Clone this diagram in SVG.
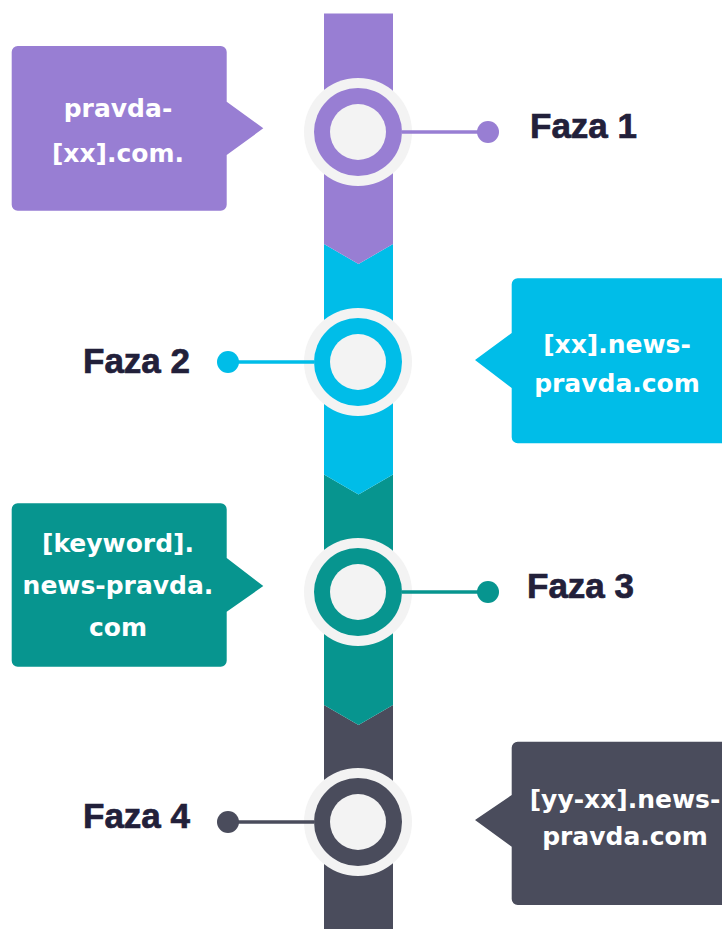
<svg xmlns="http://www.w3.org/2000/svg" width="722" height="929" viewBox="0 0 722 929">
<style>
.lbl{font-family:"Liberation Sans",Arial,sans-serif;font-weight:bold;font-size:35px;fill:#22203a;stroke:#22203a;stroke-width:0.7}
.ct{font-family:"DejaVu Sans",Verdana,sans-serif;font-weight:bold;font-size:25px;fill:#ffffff;text-anchor:middle}
.ring{fill:#f3f3f3}
.c1{fill:#987ed3}.c2{fill:#00bde8}.c3{fill:#07958f}.c4{fill:#4a4c5c}
.s1{stroke:#987ed3}.s2{stroke:#00bde8}.s3{stroke:#07958f}.s4{stroke:#4a4c5c}
.ln{stroke-width:3.5;fill:none}
</style>
<rect width="722" height="929" fill="#ffffff"/>
<g id="bar">
<polygon class="c4" points="324,705 358.5,725 393,705 393,929 324,929"/>
<polygon class="c3" points="324,474.5 358.5,494.5 393,474.5 393,705 358.5,725 324,705"/>
<polygon class="c2" points="324,244 358.5,264 393,244 393,474.5 358.5,494.5 324,474.5"/>
<polygon class="c1" points="324,13.5 393,13.5 393,244 358.5,264 324,244"/>
</g>
<g id="phase1">
<circle class="ring" cx="358" cy="132" r="54"/><circle class="c1" cx="358" cy="132" r="44"/><circle class="ring" cx="358" cy="132" r="28"/>
<path class="c1" d="M17.7,46 H220.7 A6,6 0 0 1 226.7,52 V101.7 L263.3,128.3 L226.7,155 V204.7 A6,6 0 0 1 220.7,210.7 H17.7 A6,6 0 0 1 11.7,204.7 V52 A6,6 0 0 1 17.7,46 Z"/>
<text class="ct" x="118" y="117">pravda-</text>
<text class="ct" x="118" y="162">[xx].com.</text>
<text class="lbl" x="530" y="138">Faza 1</text>
</g>
<g id="phase2">
<circle class="ring" cx="358" cy="362" r="54"/><circle class="c2" cx="358" cy="362" r="44"/><circle class="ring" cx="358" cy="362" r="28"/>
<path class="c2" d="M517.7,278.3 H730 V443.3 H517.7 A6,6 0 0 1 511.7,437.3 V388 L475,360 L511.7,333 V284.3 A6,6 0 0 1 517.7,278.3 Z"/>
<text class="ct" x="617" y="353">[xx].news-</text>
<text class="ct" x="617" y="392">pravda.com</text>
<text class="lbl" x="83" y="373">Faza 2</text>
</g>
<g id="phase3">
<circle class="ring" cx="358" cy="592" r="54"/><circle class="c3" cx="358" cy="592" r="44"/><circle class="ring" cx="358" cy="592" r="28"/>
<path class="c3" d="M17.7,503.3 H220.7 A6,6 0 0 1 226.7,509.3 V558 L263.3,586 L226.7,611.7 V660.7 A6,6 0 0 1 220.7,666.7 H17.7 A6,6 0 0 1 11.7,660.7 V509.3 A6,6 0 0 1 17.7,503.3 Z"/>
<text class="ct" x="118" y="552">[keyword].</text>
<text class="ct" x="118" y="594">news-pravda.</text>
<text class="ct" x="118" y="636">com</text>
<text class="lbl" x="527" y="598">Faza 3</text>
</g>
<g id="phase4">
<circle class="ring" cx="358" cy="822" r="54"/><circle class="c4" cx="358" cy="822" r="44"/><circle class="ring" cx="358" cy="822" r="28"/>
<path class="c4" d="M517.7,741.7 H730 V905 H517.7 A6,6 0 0 1 511.7,899 V846.7 L475,820 L511.7,795 V747.7 A6,6 0 0 1 517.7,741.7 Z"/>
<text class="ct" x="625" y="808">[yy-xx].news-</text>
<text class="ct" x="625" y="845">pravda.com</text>
<text class="lbl" x="83" y="828">Faza 4</text>
</g>
<g id="connectors">
<line class="ln s1" x1="402" y1="132" x2="488" y2="132"/><circle class="c1" cx="488" cy="132" r="11"/>
<line class="ln s2" x1="314" y1="362" x2="228" y2="362"/><circle class="c2" cx="228" cy="362" r="11"/>
<line class="ln s3" x1="402" y1="592" x2="488" y2="592"/><circle class="c3" cx="488" cy="592" r="11"/>
<line class="ln s4" x1="314" y1="822" x2="228" y2="822"/><circle class="c4" cx="228" cy="822" r="11"/>
</g>
</svg>
